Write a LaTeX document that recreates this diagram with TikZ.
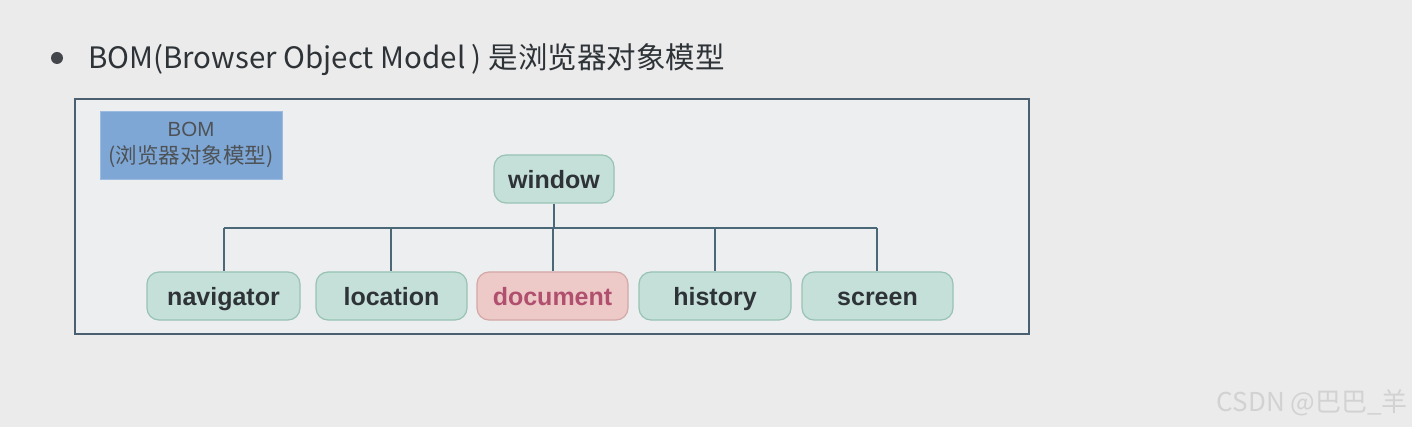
\documentclass[tikz,border=0pt]{standalone}
\usepackage{fontspec}
\setmainfont{Liberation Sans}
\newfontfamily\cjk{Noto Sans CJK SC}
\definecolor{pagebg}{HTML}{EBEBEB}
\definecolor{innerbg}{HTML}{EDEEEF}
\definecolor{frame}{HTML}{4A6070}
\definecolor{tealfill}{HTML}{C5E0D8}
\definecolor{tealdraw}{HTML}{98C2B4}
\definecolor{pinkfill}{HTML}{EDC9C8}
\definecolor{pinkdraw}{HTML}{D3A8A8}
\definecolor{pinktext}{HTML}{B0506E}
\definecolor{bluefill}{HTML}{7FA7D6}
\definecolor{bluedraw}{HTML}{9DBBE0}
\definecolor{darktext}{HTML}{2E3338}
\definecolor{wire}{HTML}{4A6878}
\definecolor{wmark}{HTML}{D2D2D2}
\tikzset{
  objbox/.style={draw=tealdraw, fill=tealfill, line width=1.2pt, rounded corners=12pt,
    minimum height=48pt, inner sep=0pt, text height=21pt, text depth=2pt, text=darktext,
    font=\fontsize{25}{28}\selectfont\bfseries},
  docbox/.style={objbox, draw=pinkdraw, fill=pinkfill, text=pinktext},
  wireline/.style={draw=wire, line width=1.6pt},
}
\begin{document}
\begin{tikzpicture}[x=1pt,y=-1pt]
\useasboundingbox (0,0) rectangle (1412,427);
\fill[pagebg] (0,0) rectangle (1412,427);
% bullet + header
\fill[darktext!90] (57,58) circle (6);
\node[anchor=base west, inner sep=0pt, text=darktext] (hdr) at (88,69)
  {\cjk\fontsize{29.5}{33}\selectfont BOM(Browser Object Model ) 是浏览器对象模型};
% outer frame
\draw[frame, line width=1.5pt, fill=innerbg] (75,99) rectangle (1029,334);
% BOM label box
\node[draw=bluedraw, fill=bluefill, line width=0.8pt, minimum width=182pt, minimum height=68pt,
  inner sep=0pt, align=center, text=darktext!85, font=\fontsize{20.5}{27}\selectfont] (bom) at (191,145)
  {BOM\\{\cjk\fontsize{21.5}{27}\selectfont(浏览器对象模型)}};
% nodes
\node[objbox, minimum width=120pt] (window) at (554,179) {window};
\node[objbox, minimum width=153pt] (navigator) at (223.5,296) {navigator};
\node[objbox, minimum width=151pt] (location) at (391.5,296) {location};
\node[docbox, minimum width=151pt] (document) at (552.5,296) {document};
\node[objbox, minimum width=152pt] (history) at (715,296) {history};
\node[objbox, minimum width=151pt] (screen) at (877.5,296) {screen};
% bar coordinates
\coordinate (barL) at (224,228);
\coordinate (barR) at (877,228);
\coordinate (barM) at (553,228);
\draw[wireline] (window.south) -- (window.south |- barM);
\draw[wireline] (barL) -- (barR);
\draw[wireline] (barL) -- (barL |- navigator.north);
\draw[wireline] (391,228) coordinate (bl) -- (bl |- location.north);
\draw[wireline] (barM) -- (barM |- document.north);
\draw[wireline] (715,228) coordinate (bh) -- (bh |- history.north);
\draw[wireline] (barR) -- (barR |- screen.north);
% watermark
\node[anchor=base east, inner sep=0pt, text=wmark] (wm) at (1408,411)
  {\cjk\fontsize{26}{30}\selectfont CSDN @巴巴\_羊};
\end{tikzpicture}
\end{document}
